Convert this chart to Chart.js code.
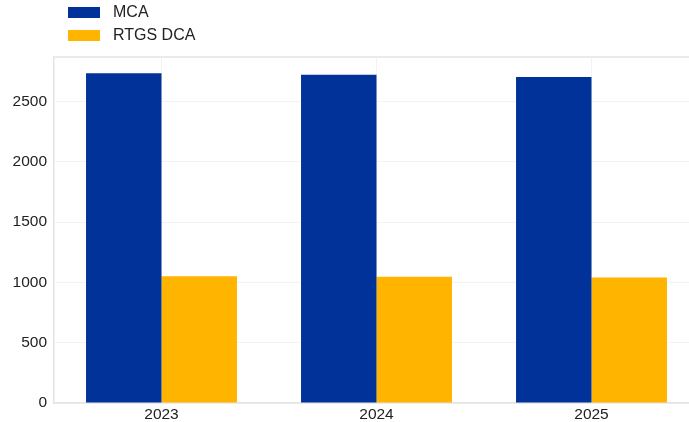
<!DOCTYPE html>
<html><head><meta charset="utf-8">
<script src="https://cdn.jsdelivr.net/npm/chart.js@4"></script>
<style>
html,body{margin:0;padding:0;background:#fff;overflow:hidden;width:689px;height:422px;}
#wrap{position:absolute;left:0;top:0;width:699px;height:422px;}
.lg{position:absolute;left:68px;font:16px "Liberation Sans",Arial,sans-serif;color:#222;display:flex;align-items:center;}
.lg span.box{display:inline-block;width:32px;height:11px;margin-right:13px;}
</style></head>
<body>
<div id="wrap"><canvas id="c"></canvas></div>
<div class="lg" style="top:3px"><span class="box" style="background:#003299"></span>MCA</div>
<div class="lg" style="top:26px"><span class="box" style="background:#FFB400"></span>RTGS DCA</div>
<script>
const categories = ['2023','2024','2025'];
const mcaValues = [2736, 2722, 2705];
const rtgsDcaValues = [1052, 1048, 1040];
const seriesNames = ['MCA','RTGS DCA'];
const yTicks = [0,500,1000,1500,2000,2500];

new Chart(document.getElementById('c'), {
  type: 'bar',
  data: {
    labels: categories,
    datasets: [
      {label: seriesNames[0], data: mcaValues, backgroundColor: '#003299', categoryPercentage: 0.702, barPercentage: 1},
      {label: seriesNames[1], data: rtgsDcaValues, backgroundColor: '#FFB400', categoryPercentage: 0.702, barPercentage: 1}
    ]
  },
  options: {
    responsive: true, maintainAspectRatio: false, animation: false,
    devicePixelRatio: 1,
    layout: {padding: {top: 57, left: 0, right: 0, bottom: 0}},
    plugins: {legend: {display: false}, tooltip: {enabled: false}},
    scales: {
      x: {
        grid: {offset: false, color: '#f3f3f3', drawTicks: false},
        border: {color: '#e4e4e4', width: 1.5},
        ticks: {color: '#222', font: {family: '"Liberation Sans", Arial, sans-serif', size: 15.5}, padding: 2, maxRotation: 0},
        afterFit: s => { s.height = 19; }
      },
      y: {
        min: 0, max: 2870,
        grid: {color: c => (c.tick && c.tick.value === 2870) ? '#ebebeb' : '#f3f3f3', lineWidth: c => (c.tick && c.tick.value === 2870) ? 2 : 1, drawTicks: false},
        border: {color: '#e4e4e4', width: 1.5},
        afterBuildTicks: s => { s.ticks = yTicks.map(v => ({value: v})).concat([{value: 2870}]); },
        ticks: {color: '#222', font: {family: '"Liberation Sans", Arial, sans-serif', size: 15.5}, padding: 7,
          callback: v => yTicks.includes(v) ? String(v) : ''},
        afterFit: s => { s.width = 54; }
      }
    }
  }
});
</script>
</body></html>
